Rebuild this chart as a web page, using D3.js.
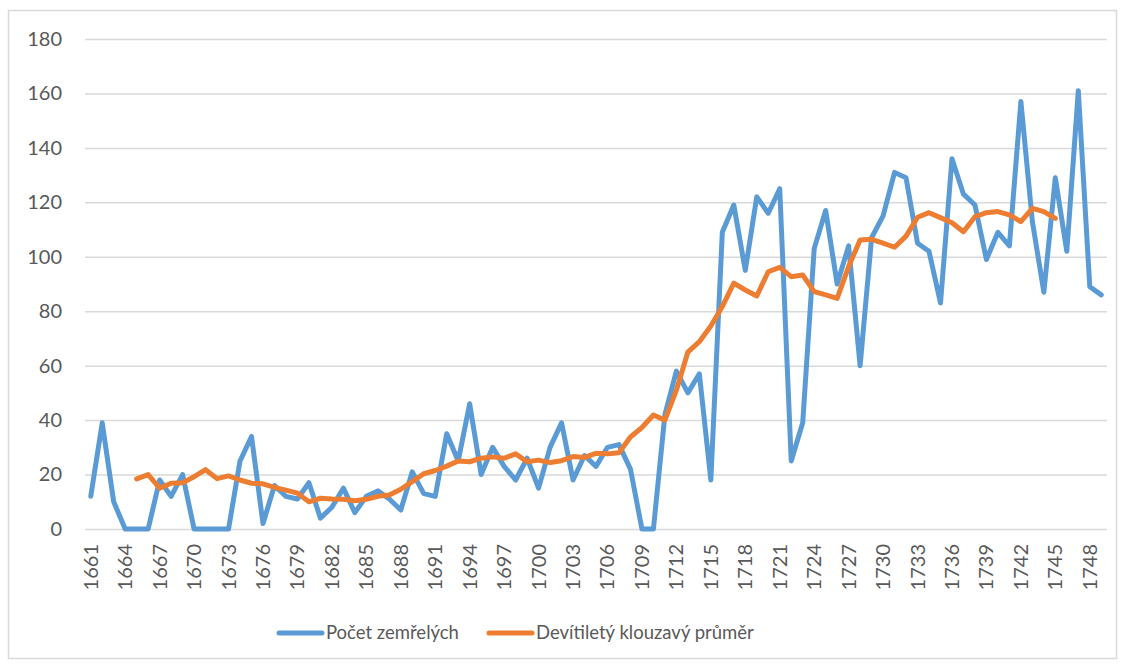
<!DOCTYPE html>
<html>
<head>
<meta charset="utf-8">
<script src="https://cdn.jsdelivr.net/npm/d3@7"></script>
<style>
  body { margin: 0; background: #fff; }
  svg text { font-family: Lato, "Open Sans", sans-serif; fill: #595959; }
</style>
</head>
<body>
<div id="chart"></div>
<script>
// years 1661..1749
const years = d3.range(1661, 1750);

// Počet zemřelých
const deaths = [
  12, 39, 10, 0, 0, 0, 18, 12, 20, 0,
  0, 0, 0, 25, 34, 2, 16, 12, 11, 17,
  4, 8, 15, 6, 12, 14, 11, 7, 21, 13,
  12, 35, 25, 46, 20, 30, 23, 18, 26, 15,
  30, 39, 18, 27, 23, 30, 31, 22, 0, 0,
  42, 58, 50, 57, 18, 109, 119, 95, 122, 116,
  125, 25, 39, 103, 117, 90, 104, 60, 107, 115,
  131, 129, 105, 102, 83, 136, 123, 119, 99, 109,
  104, 157, 113, 87, 129, 102, 161, 89, 86
];

// Devítiletý klouzavý průměr, 1665..1745
const avgStart = 1665;
const movingAvg = [
  18.4, 20, 15, 16.8, 17, 19.2, 21.8, 18.5, 19.5, 18,
  16.8, 16.6, 15.3, 14.3, 13.2, 10, 11.3, 11, 10.9, 10.4,
  10.9, 12, 12.5, 14.6, 17.4, 20.3, 21.5, 23.1, 25, 24.7,
  26, 26.5, 26, 27.6, 24.7, 25.3, 24.4, 25.1, 26.6, 26.3,
  27.8, 27.6, 28, 33.8, 37.3, 41.9, 40, 51, 65, 68.8,
  74.6, 81.7, 90.3, 87.8, 85.6, 94.5, 96.1, 92.7, 93.3, 87.2,
  86, 84.7, 96.4, 106.2, 106.4, 105, 103.5, 107.6, 114.5, 116.2,
  114.4, 112.5, 109.2, 114.7, 116.2, 116.6, 115.4, 112.9, 117.8, 116.6,
  114.1
];

const yTicks = [0, 20, 40, 60, 80, 100, 120, 140, 160, 180];
const xLabelYears = years.filter((y, i) => i % 3 === 0);

const seriesNames = ["Počet zemřelých", "Devítiletý klouzavý průměr"];
const colors = ["#5b9bd5", "#ed7d31"];

const W = 1124, H = 666;
const margin = {top: 39, right: 17, bottom: 137, left: 85};
const width = W - margin.left - margin.right;
const height = H - margin.top - margin.bottom;

const svg = d3.select("#chart").append("svg")
    .attr("width", W)
    .attr("height", H);

// chart border
svg.append("rect")
    .attr("x", 8.5).attr("y", 10.5)
    .attr("width", 1108).attr("height", 648)
    .attr("fill", "none")
    .attr("stroke", "#d9d9d9")
    .attr("stroke-width", 1.5);

const g = svg.append("g")
    .attr("transform", "translate(" + margin.left + "," + margin.top + ")");

const x = d3.scaleBand()
    .domain(years)
    .range([0, width]);
const xc = d => x(d) + x.bandwidth() / 2;

const y = d3.scaleLinear()
    .domain([0, 180])
    .range([height, 0]);

// Y axis + gridlines
g.append("g")
    .call(d3.axisLeft(y).tickValues(yTicks).tickSize(-width).tickPadding(23))
    .call(a => a.select(".domain").remove())
    .call(a => a.selectAll("line").attr("stroke", "#d9d9d9").attr("stroke-width", 1.5))
    .call(a => a.selectAll("text").attr("font-size", 20).style("font-family", "Lato, sans-serif"));

// X axis
g.append("g")
    .attr("transform", "translate(0," + height + ")")
    .call(d3.axisBottom(x).tickValues(xLabelYears).tickSize(0).tickPadding(0))
    .call(a => a.select(".domain").remove())
    .selectAll("text")
    .attr("font-size", 20)
    .attr("transform", "rotate(-90)")
    .attr("x", -15)
    .attr("y", 0)
    .attr("dy", "0.35em")
    .style("text-anchor", "end");

// lines
const line = d3.line()
    .x(d => xc(d.year))
    .y(d => y(d.value));

const deathData = years.map((yr, i) => ({year: yr, value: deaths[i]}));
const avgData = movingAvg.map((v, i) => ({year: avgStart + i, value: v}));

[deathData, avgData].forEach((data, i) => {
    g.append("path")
        .datum(data)
        .attr("fill", "none")
        .attr("stroke", colors[i])
        .attr("stroke-width", 5)
        .attr("stroke-linejoin", "round")
        .attr("stroke-linecap", "round")
        .attr("d", line);
});

// legend
const legendX = [279, 489];
const legend = svg.append("g");
seriesNames.forEach((name, i) => {
    legend.append("line")
        .attr("x1", legendX[i]).attr("x2", legendX[i] + 43)
        .attr("y1", 633).attr("y2", 633)
        .attr("stroke", colors[i])
        .attr("stroke-width", 5)
        .attr("stroke-linecap", "round");
    legend.append("text")
        .attr("x", legendX[i] + 47)
        .attr("y", 633)
        .attr("dy", "0.35em")
        .attr("font-size", 18.5)
        .text(name);
});
</script>
</body>
</html>
